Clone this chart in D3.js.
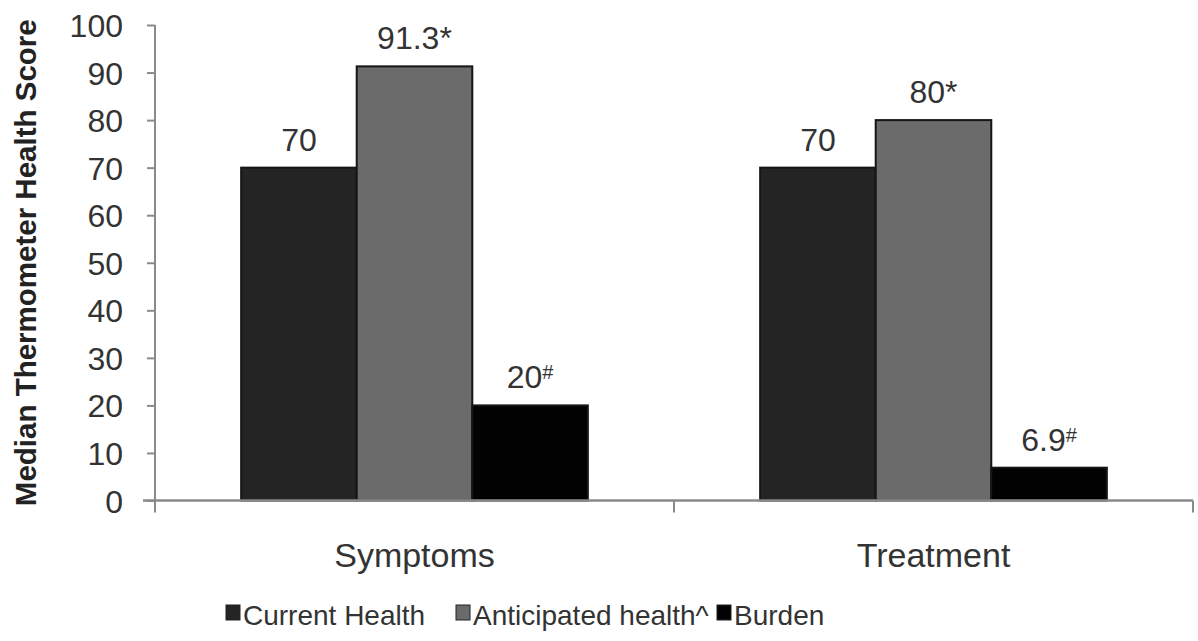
<!DOCTYPE html>
<html>
<head>
<meta charset="utf-8">
<script src="https://cdn.jsdelivr.net/npm/d3@7"></script>
<style>
  html, body { margin: 0; padding: 0; background: #fff; }
  svg { display: block; }
  text { font-family: "Liberation Sans", Arial, sans-serif; }
</style>
</head>
<body>
<svg id="chart" width="1198" height="641"></svg>
<script>
// Median thermometer health scores by domain
const categories = ["Symptoms", "Treatment"];
const seriesNames = ["Current Health", "Anticipated health^", "Burden"];
const currentHealth = [70, 70];
const anticipatedHealth = [91.3, 80];
const burden = [20, 6.9];
const valueLabels = [
  ["70", "70"],
  ["91.3*", "80*"],
  ["20#", "6.9#"]
];
const yTicks = [0, 10, 20, 30, 40, 50, 60, 70, 80, 90, 100];
const seriesColors = ["#242424", "#6b6b6b", "#020202"];

const seriesValues = [currentHealth, anticipatedHealth, burden];

const svg = d3.select("#chart");
const plot = { left: 155, right: 1193, top: 25, bottom: 500.5 };

const y = d3.scaleLinear().domain([0, 100]).range([plot.bottom, plot.top]);
const x0 = d3.scaleBand().domain(categories).range([plot.left, plot.right]).padding(0);
// bars occupy the central part of each category band
const groupWidth = x0.bandwidth() * 0.668;
const x1 = d3.scaleBand().domain(d3.range(seriesNames.length))
  .range([0, groupWidth]).padding(0);

// Y axis
const yAxis = d3.axisLeft(y).tickValues(yTicks).tickSize(8).tickPadding(24);
const gy = svg.append("g").attr("transform", `translate(${plot.left},0)`).call(yAxis);
gy.select(".domain").remove();
gy.selectAll(".tick line").attr("stroke", "#8a8a8a").attr("stroke-width", 2);
gy.selectAll(".tick text")
  .attr("font-size", 32).attr("fill", "#333")
  .attr("font-family", "'Liberation Sans', Arial, sans-serif")
  .attr("dy", "0.36em");
svg.append("line")
  .attr("x1", plot.left).attr("x2", plot.left)
  .attr("y1", y(100)).attr("y2", plot.bottom + 12)
  .attr("stroke", "#8a8a8a").attr("stroke-width", 2);

// Y axis title
svg.append("text")
  .attr("transform", `translate(36,${(plot.top + plot.bottom) / 2}) rotate(-90)`)
  .attr("text-anchor", "middle")
  .attr("font-size", 29.5).attr("font-weight", "bold").attr("fill", "#222")
  .text("Median Thermometer Health Score");

// Bars
const groups = svg.selectAll("g.group")
  .data(categories)
  .join("g")
  .attr("class", "group")
  .attr("transform", c => `translate(${x0(c) + (x0.bandwidth() - groupWidth) / 2},0)`);

groups.selectAll("rect")
  .data((c, ci) => seriesValues.map((vals, si) => ({ si, v: vals[ci] })))
  .join("rect")
  .attr("x", d => x1(d.si))
  .attr("width", x1.bandwidth())
  .attr("y", d => y(d.v))
  .attr("height", d => y(0) - y(d.v))
  .attr("fill", d => seriesColors[d.si])
  .attr("stroke", "#151515")
  .attr("stroke-width", 2);

// Value labels above bars
groups.each(function (c, ci) {
  const g = d3.select(this);
  seriesValues.forEach((vals, si) => {
    const label = valueLabels[si][ci];
    const t = g.append("text")
      .attr("x", x1(si) + x1.bandwidth() / 2)
      .attr("y", y(vals[ci]) - 17)
      .attr("text-anchor", "middle")
      .attr("font-size", 32).attr("fill", "#333");
    if (label.endsWith("#")) {
      t.append("tspan").text(label.slice(0, -1));
      t.append("tspan").attr("font-size", 20).attr("dy", -9).text("#");
    } else {
      t.text(label);
    }
  });
});

// X axis
svg.append("line")
  .attr("x1", plot.left - 12).attr("x2", plot.right)
  .attr("y1", plot.bottom).attr("y2", plot.bottom)
  .attr("stroke", "#8a8a8a").attr("stroke-width", 2.5);
const xTickPos = categories.map(c => x0(c) + x0.bandwidth());
svg.selectAll("line.xtick")
  .data(xTickPos)
  .join("line")
  .attr("class", "xtick")
  .attr("x1", d => d).attr("x2", d => d)
  .attr("y1", plot.bottom).attr("y2", plot.bottom + 12)
  .attr("stroke", "#8a8a8a").attr("stroke-width", 2);

svg.selectAll("text.cat")
  .data(categories)
  .join("text")
  .attr("class", "cat")
  .attr("x", c => x0(c) + x0.bandwidth() / 2)
  .attr("y", 567)
  .attr("text-anchor", "middle")
  .attr("font-size", 34).attr("fill", "#333")
  .text(c => c);

// Legend
const legendX = [226, 456, 717];
const legend = svg.selectAll("g.legend")
  .data(seriesNames)
  .join("g")
  .attr("class", "legend")
  .attr("transform", (d, i) => `translate(${legendX[i]},0)`);
legend.append("rect")
  .attr("x", 0).attr("y", 605).attr("width", 14).attr("height", 15)
  .attr("fill", (d, i) => seriesColors[i])
  .attr("stroke", "#222").attr("stroke-width", 1);
legend.append("text")
  .attr("x", 17).attr("y", 625)
  .attr("font-size", 28).attr("fill", "#333")
  .text(d => d);
</script>
</body>
</html>
